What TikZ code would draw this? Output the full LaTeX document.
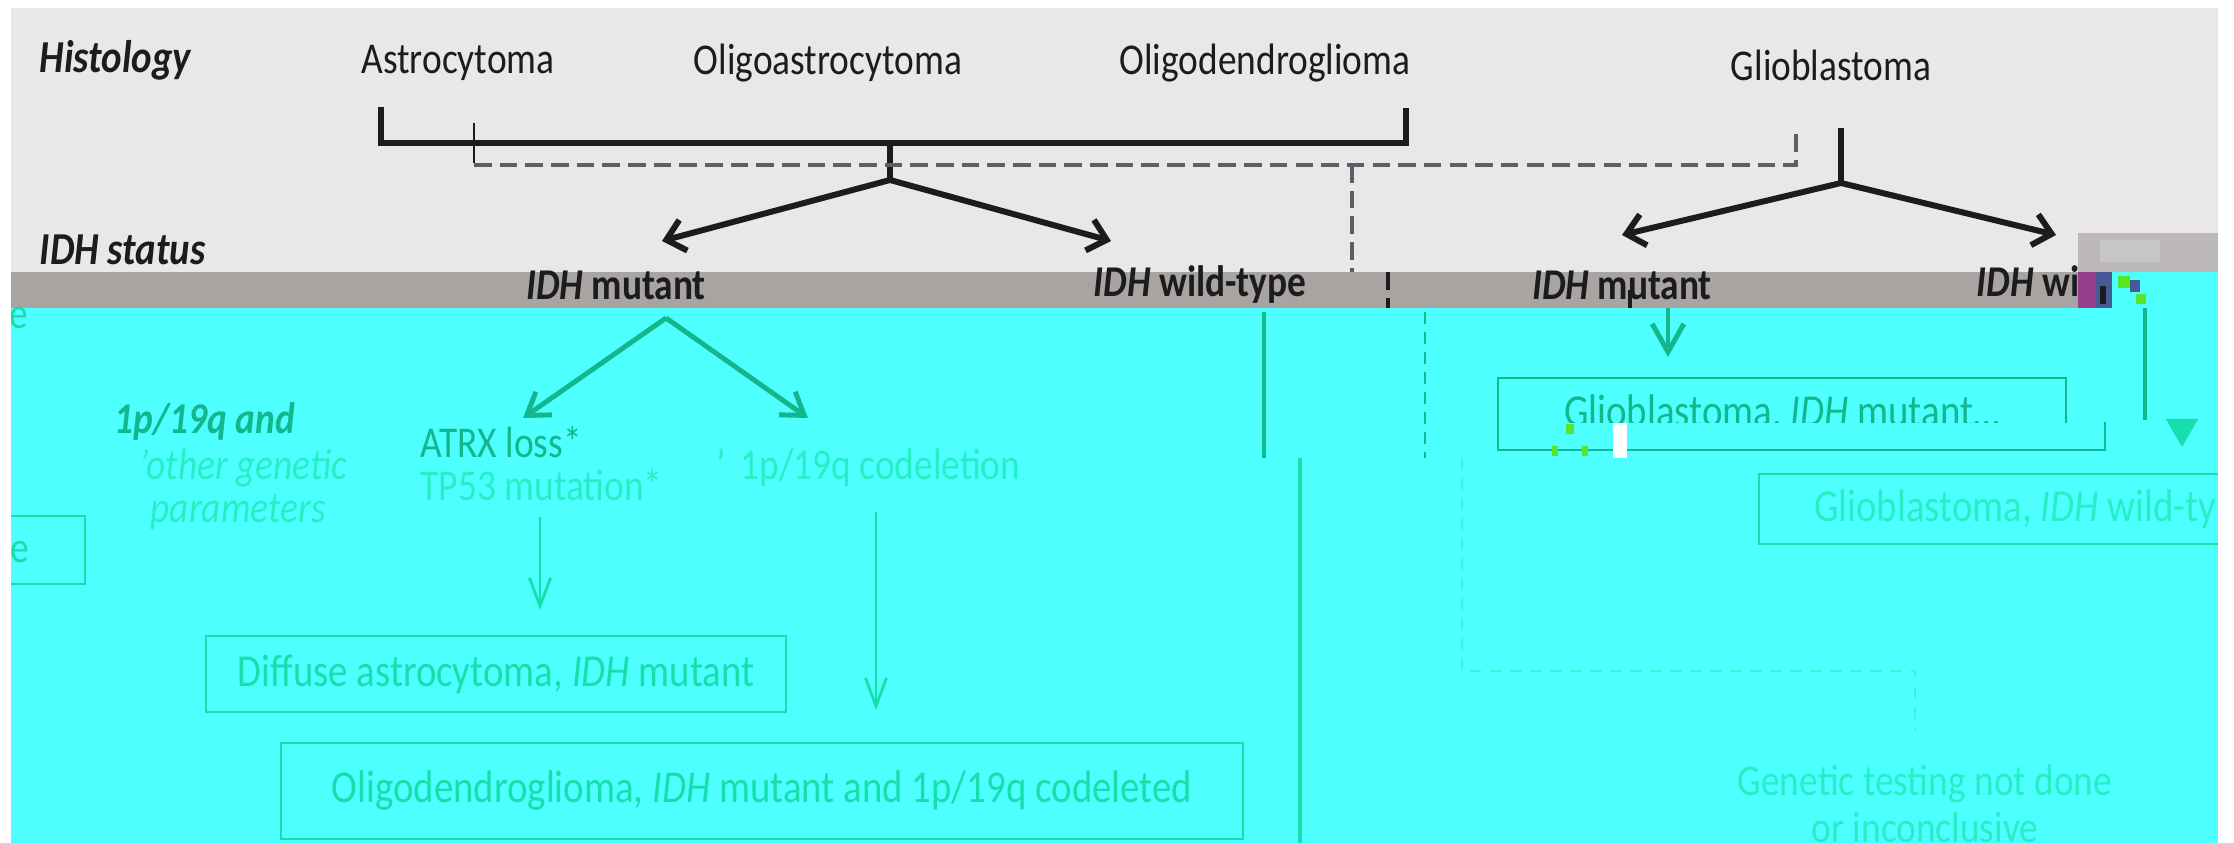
\documentclass[tikz,border=0pt]{standalone}
\usepackage{fontspec}
\setmainfont{Carlito}[FakeStretch=0.85]
\usetikzlibrary{calc}
\usetikzlibrary{arrows.meta,positioning}

\definecolor{paper}{RGB}{233,231,234}
\definecolor{band}{RGB}{168,164,162}
\definecolor{wash}{RGB}{77,255,255}
\definecolor{ink}{RGB}{28,28,30}
\definecolor{dashgrey}{RGB}{92,96,98}
\definecolor{tealdark}{RGB}{20,182,140}
\definecolor{tealmid}{RGB}{24,222,172}
\definecolor{teallight}{RGB}{40,238,198}
\definecolor{tealfaint}{RGB}{62,242,218}
\definecolor{noisegrey}{RGB}{188,184,184}
\definecolor{noisepurple}{RGB}{150,62,140}
\definecolor{noiseblue}{RGB}{70,90,150}
\definecolor{noisegreen}{RGB}{90,230,40}

\tikzset{
  toplbl/.style={inner sep=0pt,text=ink,font=\fontsize{12.5}{15}\selectfont},
  sidelbl/.style={inner sep=0pt,text=ink,font=\fontsize{13}{15}\selectfont\bfseries\itshape},
  idhlbl/.style={inner sep=0pt,text=ink,font=\fontsize{12.5}{15}\selectfont\bfseries},
  genlbl/.style={inner sep=0pt,text=#1,font=\fontsize{12.5}{15}\selectfont},
  genbox/.style={rectangle,draw=#1,line width=0.6pt,inner sep=0pt,text=#1,font=\fontsize{13}{15}\selectfont},
  bracket/.style={draw=ink,line width=1.7pt},
  blackarrow/.style={draw=ink,line width=1.7pt,-{Straight Barb[length=5pt,width=9pt]}},
  tealarrow/.style={draw=tealdark,line width=1.4pt,-{Straight Barb[length=6pt,width=8pt]}},
  thinarrow/.style={draw=tealmid,line width=0.8pt,-{Straight Barb[length=8pt,width=6pt]}},
  greydash/.style={draw=dashgrey,line width=1.1pt,dash pattern=on 5pt off 2.3pt},
  tealdash/.style={draw=#1,line width=0.8pt,dash pattern=on 3.4pt off 2.3pt},
}

\begin{document}
\begin{tikzpicture}[x=0.01cm,y=-0.01cm]
\useasboundingbox (0,0) rectangle (2234,843);

% page, grey band and wash
\fill[paper] (11,8) rectangle (2218,272);
\fill[band] (11,272) rectangle (2218,308);
\fill[wash] (11,308) rectangle (2218,843);

%%%%%%%%%%%%%%%%%%%
% histology row
\node[sidelbl,anchor=west] at (39,60) (histology) {Histology};
\node[toplbl] at (458,63) (astro) {Astrocytoma};
\node[toplbl] at (828,63) (oligoastro) {Oligoastrocytoma};
\node[toplbl] at (1265,63) (oligodendro) {Oligodendroglioma};
\node[toplbl] at (1831,65) (glio) {Glioblastoma};

\coordinate (BRL) at (381,107);
\coordinate (BRR) at (1406,108);
\coordinate (JOIN1) at (890,180);
\coordinate (GLIOTOP) at (1841,128);
\coordinate (JOIN2) at (1841,183);
\draw[bracket] (BRL) -- (381,143) -- (1406,143) -- (BRR);
\draw[bracket] (890,143) -- (JOIN1);
\draw[bracket] (GLIOTOP) -- (JOIN2);

% dashed bracket
\coordinate (DASHL) at (474,123);
\coordinate (DASHR) at (1796,127);
\draw[ink,line width=0.6pt] (DASHL) -- (474,163);
\draw[greydash] (474,165) -- (1796,165) -- (DASHR);
\draw[greydash] (1352,165) -- (1352,272);
\draw[ink,line width=1.1pt,dash pattern=on 5pt off 2.3pt] (1388,272) -- (1388,308);

%%%%%%%%%%%%%%%%%%%
% IDH status row
\node[sidelbl,anchor=west] at (39,250) (idhstatus) {IDH status};
\node[idhlbl] at (616,285) (mut1) {\textit{IDH} mutant};
\node[idhlbl] at (1200,285) (wt1) {\textit{IDH} wild-type};
\node[idhlbl] at (1622,285) (mut2) {\textit{IDH} mutant};
\node[idhlbl,anchor=west] at (1976,285) (wt2) {\textit{IDH} wild-type};

\coordinate (TIP1) at (662,241);
\coordinate (TIP2) at (1111,241);
\coordinate (TIP3) at (1622,235);
\coordinate (TIP4) at (2056,235);
\draw[blackarrow] (JOIN1) -- (TIP1);
\draw[blackarrow] (JOIN1) -- (TIP2);
\draw[blackarrow] (JOIN2) -- (TIP3);
\draw[blackarrow] (JOIN2) -- (TIP4);

% torn corner at the right
\fill[noisegrey] (2078,233) rectangle (2218,272);
\fill[gray!45] (2100,240) rectangle (2160,262);
\fill[noisepurple] (2078,272) rectangle (2096,308);
\fill[noiseblue] (2096,272) rectangle (2112,308);
\fill[wash] (2112,272) rectangle (2218,308);
\fill[noisegreen] (2118,276) rectangle (2130,288);
\fill[noisegreen] (2136,294) rectangle (2146,304);
\fill[noiseblue] (2130,280) rectangle (2140,292);
\fill[ink] (2100,286) rectangle (2106,304);

%%%%%%%%%%%%%%%%%%%
% genetic parameters
\node[genlbl=tealdark,font=\fontsize{12.5}{15}\selectfont\bfseries\itshape,anchor=west] at (114,422) (gen1) {1p/19q and};
\node[genlbl=teallight,font=\fontsize{12.5}{15}\selectfont\itshape,anchor=west] at (139,468) (gen2) {'other genetic};
\node[genlbl=teallight,font=\fontsize{12.5}{15}\selectfont\itshape,anchor=west] at (150,512) (gen3) {parameters};
\node[genlbl=tealdark,anchor=west] at (420,442) (atrx) {ATRX loss*};
\node[genlbl=teallight,anchor=west] at (420,485) (tp53) {TP53 mutation*};
\node[genlbl=teallight,anchor=west] at (716,468) (codel) {'\,\,1p/19q codeletion};
\node[genlbl=tealmid] at (19,318) (cute1) {e};
\node[genlbl=tealmid] at (20,552) (cute2) {e};
\draw[tealmid,line width=0.6pt] (11,516) -- (85,516) -- (85,584) -- (11,584);

\coordinate (APEX) at (666,318);
\coordinate (TIP5) at (523,418);
\coordinate (TIP6) at (808,418);
\draw[tealarrow] (APEX) -- (TIP5);
\draw[tealarrow] (APEX) -- (TIP6);

%%%%%%%%%%%%%%%%%%%
% diagnoses
\node[genbox=tealmid,minimum width=5.79cm,minimum height=0.76cm] at (496,674) (diffuse) {Diffuse astrocytoma, \textit{IDH} mutant};
\node[genbox=tealmid,minimum width=9.62cm,minimum height=0.96cm] at (762,791) (oligo) {Oligodendroglioma, \textit{IDH} mutant and 1p/19q codeleted};
\coordinate (ATRXDOWN) at (540,517);
\coordinate (TIP7) at (540,610);
\coordinate (CODELDOWN) at (876,512);
\coordinate (TIP8) at (876,710);
\draw[thinarrow] (ATRXDOWN) -- (TIP7);
\draw[thinarrow] (CODELDOWN) -- (TIP8);

% wild-type stem, offset by the tear
\draw[tealdark,line width=1.2pt] (1264,312) -- (1264,458);
\draw[tealmid,line width=1.0pt] (1300,458) -- (1300,843);
\draw[tealdash=tealdark] (1425,312) -- (1425,458);
\draw[tealdash=tealfaint] (1462,458) -- (1462,671) -- (1915,671) -- (1915,730);

\node[genbox=tealdark,minimum width=5.68cm,minimum height=0.72cm,text=tealdark] at (1782,414) (gbmmut) {Glioblastoma, \textit{IDH} mutant\ldots};
\fill[wash] (1552,423) rectangle (2072,456);
\draw[tealdark,line width=0.6pt] (1558,450) -- (2105,450) -- (2105,422);
\fill[white] (1613,423) rectangle (1627,458);
\fill[noisegreen] (1566,424) rectangle (1574,434);
\fill[noisegreen] (1552,446) rectangle (1558,456);
\fill[noisegreen] (1582,446) rectangle (1588,456);
\draw[ink,line width=1.2pt] (1630,290) -- (1630,308);
\coordinate (MUTDOWN) at (1668,308);
\coordinate (TIP9) at (1668,357);
\draw[tealarrow,-{Straight Barb[length=8pt,width=9pt]}] (MUTDOWN) -- (TIP9);

\node[genbox=tealmid,minimum width=4.8cm,minimum height=0.70cm,text=teallight,anchor=west] at (1758,509) (gbmwt) {\hspace*{0.55cm}Glioblastoma, \textit{IDH} wild-type\hspace*{1cm}};
\coordinate (WTDOWN) at (2145,308);
\coordinate (WTEND) at (2145,420);
\coordinate (TIP10) at (2182,447);
\draw[tealdark,line width=1.2pt] (WTDOWN) -- (WTEND);
\draw[draw=tealmid,fill=tealmid,line width=1.0pt,-{Triangle[length=8pt,width=9pt]}] (2182,420) -- (TIP10);

\node[genlbl=teallight,align=center,font=\fontsize{12.5}{13.4}\selectfont] at (1925,804) (notdone) {Genetic testing not done\\or inconclusive};

% margins
\fill[white] (0,0) rectangle (2234,8);
\fill[white] (0,0) rectangle (11,843);
\fill[white] (2218,0) rectangle (2234,843);
\end{tikzpicture}
\end{document}
